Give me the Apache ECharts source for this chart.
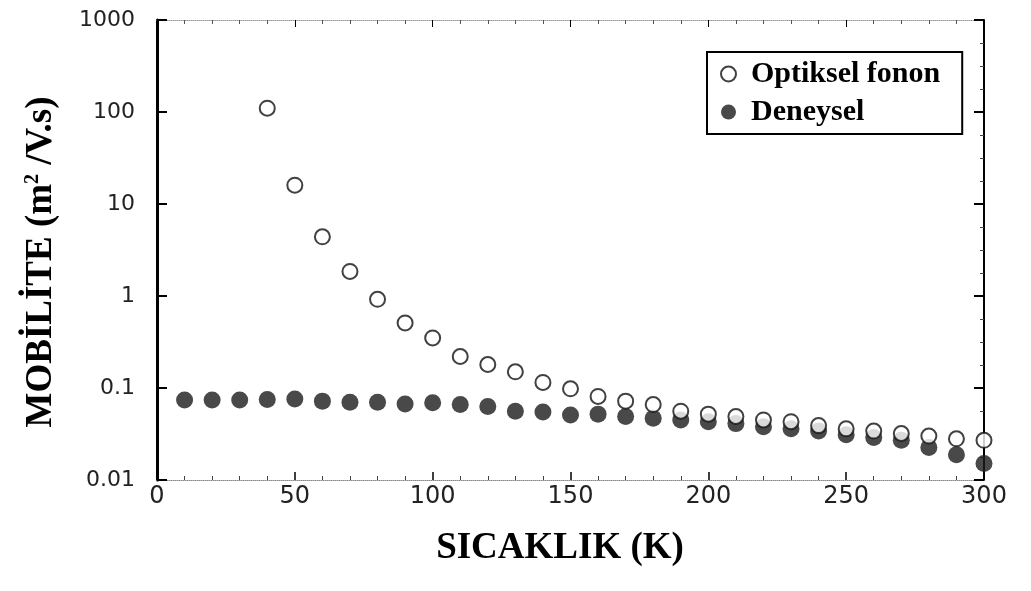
<!DOCTYPE html>
<html>
<head>
<meta charset="utf-8">
<script src="https://cdn.jsdelivr.net/npm/echarts@6/dist/echarts.min.js"></script>
<style>
html,body{margin:0;padding:0;background:#fff;}
#chart{width:1031px;height:591px;}
</style>
</head>
<body>
<div id="chart"></div>
<script>
// Data
const tempOptik = [40,50,60,70,80,90,100,110,120,130,140,150,160,170,180,190,200,210,220,230,240,250,260,270,280,290,300];
const mobOptik  = [110,16,4.4,1.85,0.92,0.51,0.35,0.22,0.18,0.15,0.115,0.098,0.081,0.072,0.066,0.056,0.052,0.049,0.045,0.043,0.039,0.036,0.034,0.032,0.030,0.028,0.027];
const tempDeney = [10,20,30,40,50,60,70,80,90,100,110,120,130,140,150,160,170,180,190,200,210,220,230,240,250,260,270,280,290,300];
const mobDeney  = [0.074,0.074,0.074,0.075,0.076,0.072,0.070,0.070,0.067,0.069,0.066,0.063,0.056,0.055,0.051,0.052,0.049,0.047,0.045,0.043,0.041,0.038,0.036,0.034,0.031,0.029,0.027,0.0225,0.0188,0.0151];
const xTicks = [0,50,100,150,200,250,300];
const yTicks = [0.01,0.1,1,10,100,1000];
const seriesNames = ['Optiksel fonon','Deneysel'];
const xTitle = 'SICAKLIK (K)';
const yTitleMain = 'MOBİLİTE (m';
const yTitleSup = '2';
const yTitleEnd = ' /V.s)';

const chart = echarts.init(document.getElementById('chart'));
const titleFont = 'Liberation Serif';

chart.setOption({
  animation:false,
  backgroundColor:'#fff',
  grid:{left:157, right:47, top:20, bottom:111, containLabel:false},
  legend:{
    orient:'vertical', left:707, top:52,
    padding:[7,22,7,13], itemGap:8,
    borderColor:'#000', borderWidth:2,
    itemWidth:15, itemHeight:15,
    data:seriesNames,
    textStyle:{fontFamily:titleFont, fontWeight:'bold', fontSize:30, color:'#000', padding:[0,0,0,10]}
  },
  graphic:[{
    type:'text', x:560, y:548, z:10,
    style:{text:xTitle, align:'center', verticalAlign:'middle', fontFamily:titleFont, fontWeight:'bold', fontSize:37, fill:'#000'}
  },{
    type:'text', x:41, y:262, rotation:Math.PI/2, z:10,
    style:{
      text:'{a|'+yTitleMain+'}{s|'+yTitleSup+'}{a|'+yTitleEnd+'}',
      align:'center', verticalAlign:'middle',
      rich:{
        a:{fontFamily:titleFont, fontWeight:'bold', fontSize:37, fill:'#000'},
        s:{fontFamily:titleFont, fontWeight:'bold', fontSize:20, fill:'#000', verticalAlign:'top', padding:[0,0,16,0]}
      }
    }
  }],
  xAxis:[{
    type:'value', min:xTicks[0], max:xTicks[xTicks.length-1], interval:50, position:'bottom',
    axisLine:{onZero:false, lineStyle:{color:'#888', width:1, type:'dotted'}},
    axisTick:{inside:true, length:8, lineStyle:{color:'#000', width:1.5}},
    minorTick:{show:true, splitNumber:5, length:4, lineStyle:{color:'#444'}},
    axisLabel:{margin:5, fontFamily:'DejaVu Sans', fontSize:24, color:'#222'},
    splitLine:{show:false}
  },{
    type:'value', min:0, max:300, interval:50, position:'top',
    axisLine:{onZero:false, lineStyle:{color:'#999', width:1, type:'dotted'}},
    axisTick:{inside:true, length:7, lineStyle:{color:'#000'}},
    minorTick:{show:true, splitNumber:5, length:4, lineStyle:{color:'#555'}},
    axisLabel:{show:false}, splitLine:{show:false}
  }],
  yAxis:[{
    type:'log', logBase:10, min:yTicks[0], max:yTicks[yTicks.length-1], position:'left',
    axisLine:{show:true, onZero:false, lineStyle:{color:'#000', width:3}},
    axisTick:{show:true, inside:true, length:10, lineStyle:{color:'#000', width:2}},
    axisLabel:{margin:22, formatter:v => String(v), fontFamily:'DejaVu Sans', fontSize:22, color:'#222'},
    splitLine:{show:false}
  },{
    type:'value', min:-2, max:3, interval:1, position:'right',
    axisLine:{show:true, onZero:false, lineStyle:{color:'#000', width:2}},
    axisTick:{show:true, inside:true, length:10, lineStyle:{color:'#000', width:2}},
    minorTick:{show:true, splitNumber:4, length:4, lineStyle:{color:'#444'}},
    axisLabel:{show:false}, splitLine:{show:false}
  }],
  series:[{
    name:seriesNames[0], type:'scatter', xAxisIndex:0, yAxisIndex:0,
    symbol:'emptyCircle', symbolSize:15,
    itemStyle:{color:'#111', borderWidth:2},
    data:tempOptik.map((t,i)=>[t,mobOptik[i]]), z:3
  },{
    name:seriesNames[1], type:'scatter', xAxisIndex:0, yAxisIndex:0,
    symbol:'circle', symbolSize:17,
    itemStyle:{color:'#1c1c1c'},
    data:tempDeney.map((t,i)=>[t,mobDeney[i]]), z:2
  }]
});
</script>
</body>
</html>
